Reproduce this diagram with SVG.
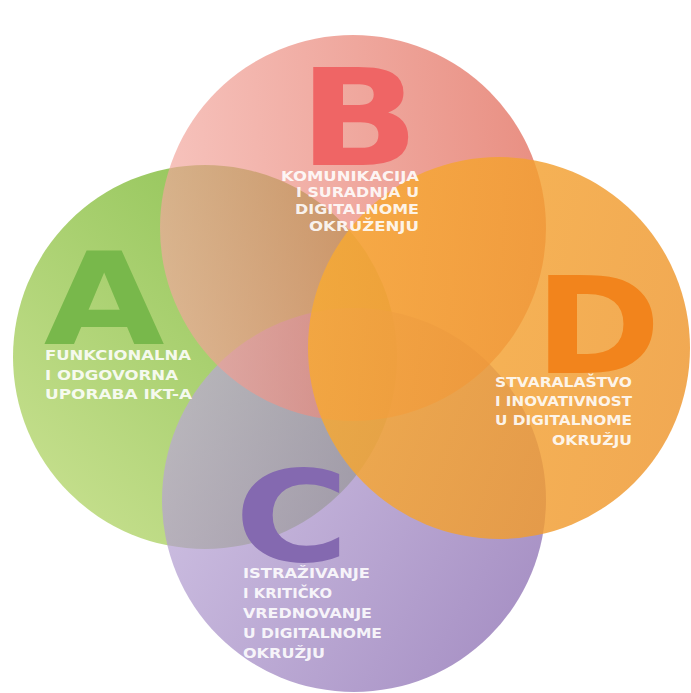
<svg xmlns="http://www.w3.org/2000/svg" width="691" height="693" viewBox="0 0 691 693">
  <defs>
    <linearGradient id="gA" x1="0" y1="1" x2="1" y2="0">
      <stop offset="0" stop-color="#cde395"/>
      <stop offset="1" stop-color="#84bd4a"/>
    </linearGradient>
    <linearGradient id="gB" x1="0" y1="0.5" x2="1" y2="0.4">
      <stop offset="0" stop-color="#f3a89f"/>
      <stop offset="1" stop-color="#de5a47"/>
    </linearGradient>
    <linearGradient id="gC" x1="0" y1="0.3" x2="1" y2="0.9">
      <stop offset="0" stop-color="#bca9d8"/>
      <stop offset="1" stop-color="#7d5ca8"/>
    </linearGradient>
    <linearGradient id="gD" x1="0" y1="0.4" x2="1" y2="0.6">
      <stop offset="0" stop-color="#f8aa32"/>
      <stop offset="1" stop-color="#ee962d"/>
    </linearGradient>
  </defs>
  <style>
    .big{font-family:"DejaVu Sans",sans-serif;font-weight:bold}
    .lbl{font-family:"DejaVu Sans",sans-serif;font-weight:bold;fill:#ffffff;fill-opacity:0.9}
    .la,.lc,.ld{font-size:14.5px}
    .lb{font-size:13.6px}
  </style>

  <g id="node-A">
    <circle cx="205" cy="357" r="192" fill="url(#gA)"/>
    <text class="big" x="-1" y="0" font-size="129" fill="#78b84b" transform="translate(45,344) scale(1.21,1)">A</text>
  </g>
  <g id="node-C">
    <circle cx="354" cy="500" r="192" fill="url(#gC)" fill-opacity="0.7"/>
    <text class="big" x="-7" y="0" font-size="127" fill="#8469b0" transform="translate(243,560.5) scale(1.23,1)">C</text>
  </g>
  <g id="node-B">
    <circle cx="353" cy="228" r="193" fill="url(#gB)" fill-opacity="0.68"/>
    <text class="big" x="-12" y="0" font-size="134" fill="#ef6565" transform="translate(313,165) scale(1.18,1)">B</text>
  </g>
  <g id="node-D">
    <circle cx="499" cy="348" r="191" fill="url(#gD)" fill-opacity="0.82"/>
    <text class="big" x="-12" y="0" font-size="134" fill="#f2841c" transform="translate(548,373) scale(1.14,1)">D</text>
  </g>

  <g id="labels">
    <g id="label-A" class="lbl la">
      <text x="45" y="360" textLength="146" lengthAdjust="spacingAndGlyphs">FUNKCIONALNA</text>
      <text x="45" y="380" textLength="133" lengthAdjust="spacingAndGlyphs">I ODGOVORNA</text>
      <text x="45" y="399" textLength="147" lengthAdjust="spacingAndGlyphs">UPORABA IKT-A</text>
    </g>
    <g id="label-B" class="lbl lb">
      <text x="281" y="180.5" textLength="138" lengthAdjust="spacingAndGlyphs">KOMUNIKACIJA</text>
      <text x="296" y="197.2" textLength="123" lengthAdjust="spacingAndGlyphs">I SURADNJA U</text>
      <text x="295" y="213.9" textLength="124" lengthAdjust="spacingAndGlyphs">DIGITALNOME</text>
      <text x="309" y="230.6" textLength="110" lengthAdjust="spacingAndGlyphs">OKRUŽENJU</text>
    </g>
    <g id="label-D" class="lbl ld">
      <text x="495" y="386.5" textLength="137" lengthAdjust="spacingAndGlyphs">STVARALAŠTVO</text>
      <text x="495" y="406" textLength="137" lengthAdjust="spacingAndGlyphs">I INOVATIVNOST</text>
      <text x="495" y="425" textLength="137" lengthAdjust="spacingAndGlyphs">U DIGITALNOME</text>
      <text x="552" y="444.5" textLength="80" lengthAdjust="spacingAndGlyphs">OKRUŽJU</text>
    </g>
    <g id="label-C" class="lbl lc">
      <text x="243" y="578" textLength="127" lengthAdjust="spacingAndGlyphs">ISTRAŽIVANJE</text>
      <text x="243" y="598" textLength="89" lengthAdjust="spacingAndGlyphs">I KRITIČKO</text>
      <text x="243" y="618" textLength="129" lengthAdjust="spacingAndGlyphs">VREDNOVANJE</text>
      <text x="243" y="638" textLength="139" lengthAdjust="spacingAndGlyphs">U DIGITALNOME</text>
      <text x="243" y="657.5" textLength="82" lengthAdjust="spacingAndGlyphs">OKRUŽJU</text>
    </g>
  </g>
</svg>
